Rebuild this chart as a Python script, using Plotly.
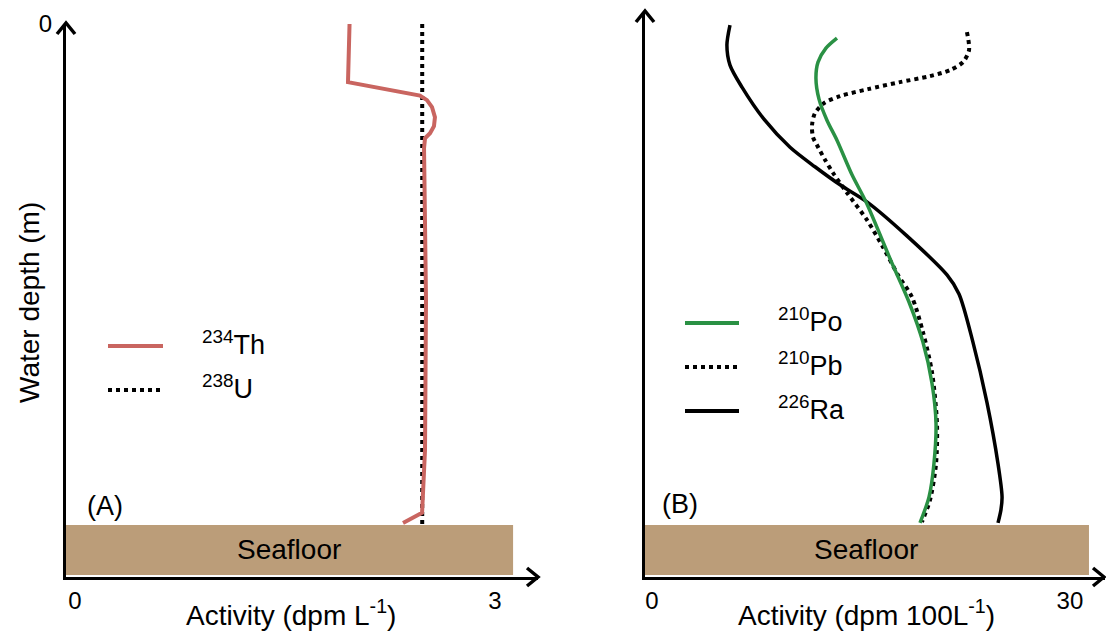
import plotly.graph_objects as go

W, H = 1106, 633
FONT = "Liberation Sans, Arial, sans-serif"

# ---------------- Panel A data ----------------
th_x = [1.961, 1.950, 2.464, 2.514, 2.550, 2.571, 2.564, 2.536, 2.500, 2.493, 2.507, 2.500, 2.479, 2.343]
th_depth = [0.0, 11.6, 14.3, 15.2, 16.6, 18.6, 20.4, 21.8, 22.8, 24.8, 55.1, 85.0, 97.6, 99.6]
u_x = [2.48, 2.48]
u_depth = [0.0, 100.0]

# ---------------- Panel B data ----------------
po_x = [13.28, 12.49, 11.92, 11.77, 11.99, 12.56, 13.28, 14.36, 15.36, 17.16, 18.45, 19.45,
        20.10, 20.39, 20.24, 19.89, 19.24]
po_depth = [2.8, 4.8, 7.6, 10.8, 15.0, 19.2, 23.2, 30.1, 35.5, 47.3, 55.5, 63.5,
            71.7, 79.8, 87.8, 94.4, 99.6]

pb_x = [22.61, 22.76, 22.33, 21.39, 19.96, 17.80, 15.51, 13.50, 12.35, 11.70, 11.49, 11.56,
        11.85, 12.42, 12.99, 14.00, 15.43, 16.58, 17.66, 18.66, 19.45, 20.10, 20.46, 20.39,
        19.96, 19.38]
pb_depth = [1.6, 5.2, 7.6, 9.2, 10.4, 11.6, 13.0, 14.4, 15.8, 17.8, 20.2, 22.6,
            24.2, 27.1, 29.7, 33.7, 39.1, 44.5, 50.1, 54.5, 61.5, 69.5, 79.8, 87.8,
            95.0, 99.4]

ra_x = [5.60, 5.38, 5.60, 6.46, 8.04, 9.91, 11.70, 13.50, 15.43, 18.30, 21.18, 22.04,
        23.04, 24.05, 24.84, 25.13, 25.05, 24.84]
ra_depth = [0.2, 4.2, 8.2, 12.6, 19.0, 24.6, 28.5, 32.1, 35.5, 42.3, 50.1, 53.9,
            63.5, 75.6, 87.8, 94.4, 97.0, 99.6]

seafloor_depth = [100.0, 110.0]
a_ticks = [0, 3]
b_ticks = [0, 30]
depth_ticks = [0]

RED = "rgb(201,101,96)"
GREEN = "rgb(42,145,68)"
SAND = "rgb(187,157,121)"

fig = go.Figure()
fig.add_trace(go.Scatter(x=u_x, y=u_depth, mode="lines", name="<sup>238</sup>U",
                         line=dict(color="black", width=4, dash="dot"),
                         xaxis="x", yaxis="y", showlegend=False))
fig.add_trace(go.Scatter(x=th_x, y=th_depth, mode="lines", name="<sup>234</sup>Th",
                         line=dict(color=RED, width=4),
                         xaxis="x", yaxis="y", showlegend=False))
fig.add_trace(go.Scatter(x=ra_x, y=ra_depth, mode="lines", name="<sup>226</sup>Ra",
                         line=dict(color="black", width=3.5, shape="spline", smoothing=0.8),
                         xaxis="x2", yaxis="y2", showlegend=False))
fig.add_trace(go.Scatter(x=pb_x, y=pb_depth, mode="lines", name="<sup>210</sup>Pb",
                         line=dict(color="black", width=4, dash="dot", shape="spline", smoothing=0.8),
                         xaxis="x2", yaxis="y2", showlegend=False))
fig.add_trace(go.Scatter(x=po_x, y=po_depth, mode="lines", name="<sup>210</sup>Po",
                         line=dict(color=GREEN, width=3.5, shape="spline", smoothing=0.8),
                         xaxis="x2", yaxis="y2", showlegend=False))

def px(x):
    return x / W

def py(y):
    return 1 - y / H

axis_common = dict(showgrid=False, zeroline=False, showline=True, linewidth=3,
                   linecolor="black", ticks="", automargin=False,
                   tickfont=dict(family=FONT, size=24, color="black"))

fig.update_layout(
    width=W, height=H,
    margin=dict(l=0, r=0, t=0, b=0, autoexpand=False),
    paper_bgcolor="white", plot_bgcolor="white",
    font=dict(family=FONT, color="black"),
    xaxis=dict(domain=[px(66), px(538)], range=[-0.064, 3.307], anchor="y",
               tickvals=a_ticks, ticktext=[str(v) for v in a_ticks], **axis_common),
    yaxis=dict(domain=[py(577), py(24)], range=[110.4, 0], anchor="x",
               tickvals=depth_ticks, ticktext=[str(v) for v in depth_ticks],
               ticklabelstandoff=6, **axis_common),
    xaxis2=dict(domain=[px(645), px(1105)], range=[-0.50, 32.52], anchor="y2",
                tickvals=b_ticks, ticktext=[str(v) for v in b_ticks], **axis_common),
    yaxis2=dict(domain=[py(577), py(12)], range=[110.4, -2.4], anchor="x2",
                showticklabels=False, **axis_common),
)

# Seafloor boxes
fig.add_shape(type="rect", xref="x", yref="y", x0=-0.064, x1=3.129,
              y0=seafloor_depth[0], y1=seafloor_depth[1], fillcolor=SAND, line=dict(width=0),
              layer="below")
fig.add_shape(type="rect", xref="x2", yref="y2", x0=-0.50, x1=31.37,
              y0=seafloor_depth[0], y1=seafloor_depth[1], fillcolor=SAND, line=dict(width=0),
              layer="below")

# Open chevron arrowheads at the axis tips
def chevron(tx, ty, direction):
    if direction == "up":
        pts = [(tx - 9, ty + 11), (tx, ty), (tx + 9, ty + 11)]
    else:
        pts = [(tx - 11, ty - 9), (tx, ty), (tx - 11, ty + 9)]
    path = "M{},{} L{},{} L{},{}".format(*[v for p in pts for v in (px(p[0]), py(p[1]))])
    fig.add_shape(type="path", xref="paper", yref="paper", path=path,
                  line=dict(color="black", width=3.5))

chevron(66, 23, "up")
chevron(538, 577, "right")
chevron(645, 11, "up")
chevron(1104, 577, "right")

ann = []

def text(x, y, s, size=28, angle=0, xanchor="center"):
    ann.append(dict(x=px(x), y=py(y), xref="paper", yref="paper", text=s, showarrow=False,
                    font=dict(family=FONT, size=size, color="black"), textangle=angle,
                    xanchor=xanchor, yanchor="middle"))

text(289, 549, "Seafloor")
text(866, 549, "Seafloor")
text(105, 506, "(A)", size=27)
text(680, 504, "(B)", size=27)
text(291, 613, "Activity (dpm L<sup>-1</sup>)")
text(866, 613, "Activity (dpm 100L<sup>-1</sup>)")
text(30, 303, "Water depth (m)", angle=-90)

# Legend entries (panel A)
legA = [("<sup>234</sup>Th", RED, "solid", 346), ("<sup>238</sup>U", "black", "dot", 390)]
for label, col, dash, yy in legA:
    fig.add_shape(type="line", xref="paper", yref="paper", x0=px(108), x1=px(163),
                  y0=py(yy), y1=py(yy), line=dict(color=col, width=4, dash=dash))
    text(200, yy - 3, label, size=27, xanchor="left")

# Legend entries (panel B)
legB = [("<sup>210</sup>Po", GREEN, "solid", 323), ("<sup>210</sup>Pb", "black", "dot", 367),
        ("<sup>226</sup>Ra", "black", "solid", 411)]
for label, col, dash, yy in legB:
    fig.add_shape(type="line", xref="paper", yref="paper", x0=px(685), x1=px(739),
                  y0=py(yy), y1=py(yy), line=dict(color=col, width=4, dash=dash))
    text(776, yy - 3, label, size=27, xanchor="left")

fig.update_layout(annotations=ann)
fig.write_html("out.html")
